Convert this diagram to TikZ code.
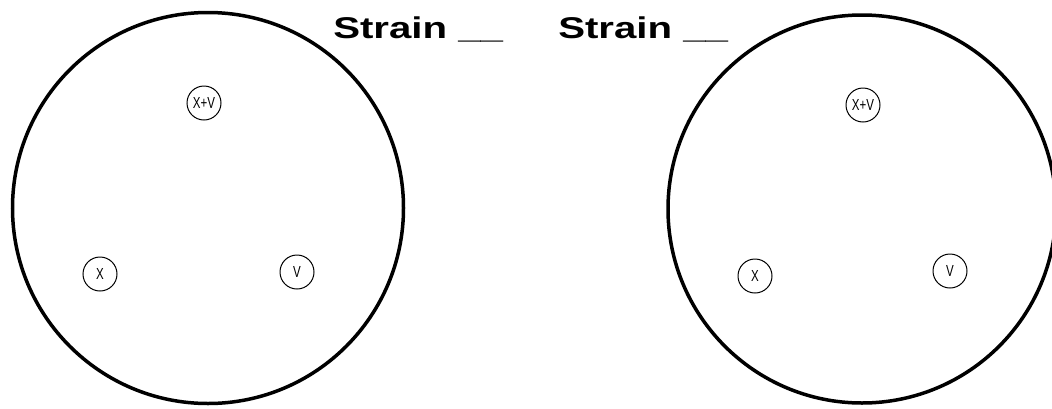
\documentclass[tikz,border=0pt]{standalone}
\usepackage{fontspec}
\setmainfont{Liberation Sans}
\usepackage{graphicx}
\usepackage{tikz}
\usetikzlibrary{positioning}

\newcommand{\spottext}[1]{\scalebox{0.72}[1]{#1}}

\begin{document}
\begin{tikzpicture}[
  x=1pt, y=-1pt,
  plate/.style={draw, circle, line width=3.5pt, inner sep=0pt},
  spot/.style={draw, circle, line width=1pt, minimum size=34pt, inner sep=0pt,
               font=\fontsize{16}{16}\selectfont},
  strain/.style={anchor=base west, inner sep=0pt, xscale=1.34,
                 font=\fontsize{30}{30}\selectfont\bfseries}
]
  \useasboundingbox (0,0) rectangle (1052,408);
  \begin{scope}
  \clip (0,0) rectangle (1052,408);
  \node[plate, minimum size=391pt] (left)  at (208,208) {};
  \node[plate, minimum size=388pt] (right) at (862,209) {};
  \end{scope}
  % left plate
  \node[spot] (lxv) at (204,103) {\spottext{X+V}};
  \node[spot] (lx)  at (100,274) {\spottext{X}};
  \node[spot] (lv)  at (297,272) {\spottext{V}};
  % right plate
  \node[spot] (rxv) at (863,105) {\spottext{X+V}};
  \node[spot] (rx)  at (755,276) {\spottext{X}};
  \node[spot] (rv)  at (950,271) {\spottext{V}};
  \node[strain] (lab1) at (333,38) {Strain \_\_};
  \node[strain] (lab2) at (558,38) {Strain \_\_};
\end{tikzpicture}
\end{document}
